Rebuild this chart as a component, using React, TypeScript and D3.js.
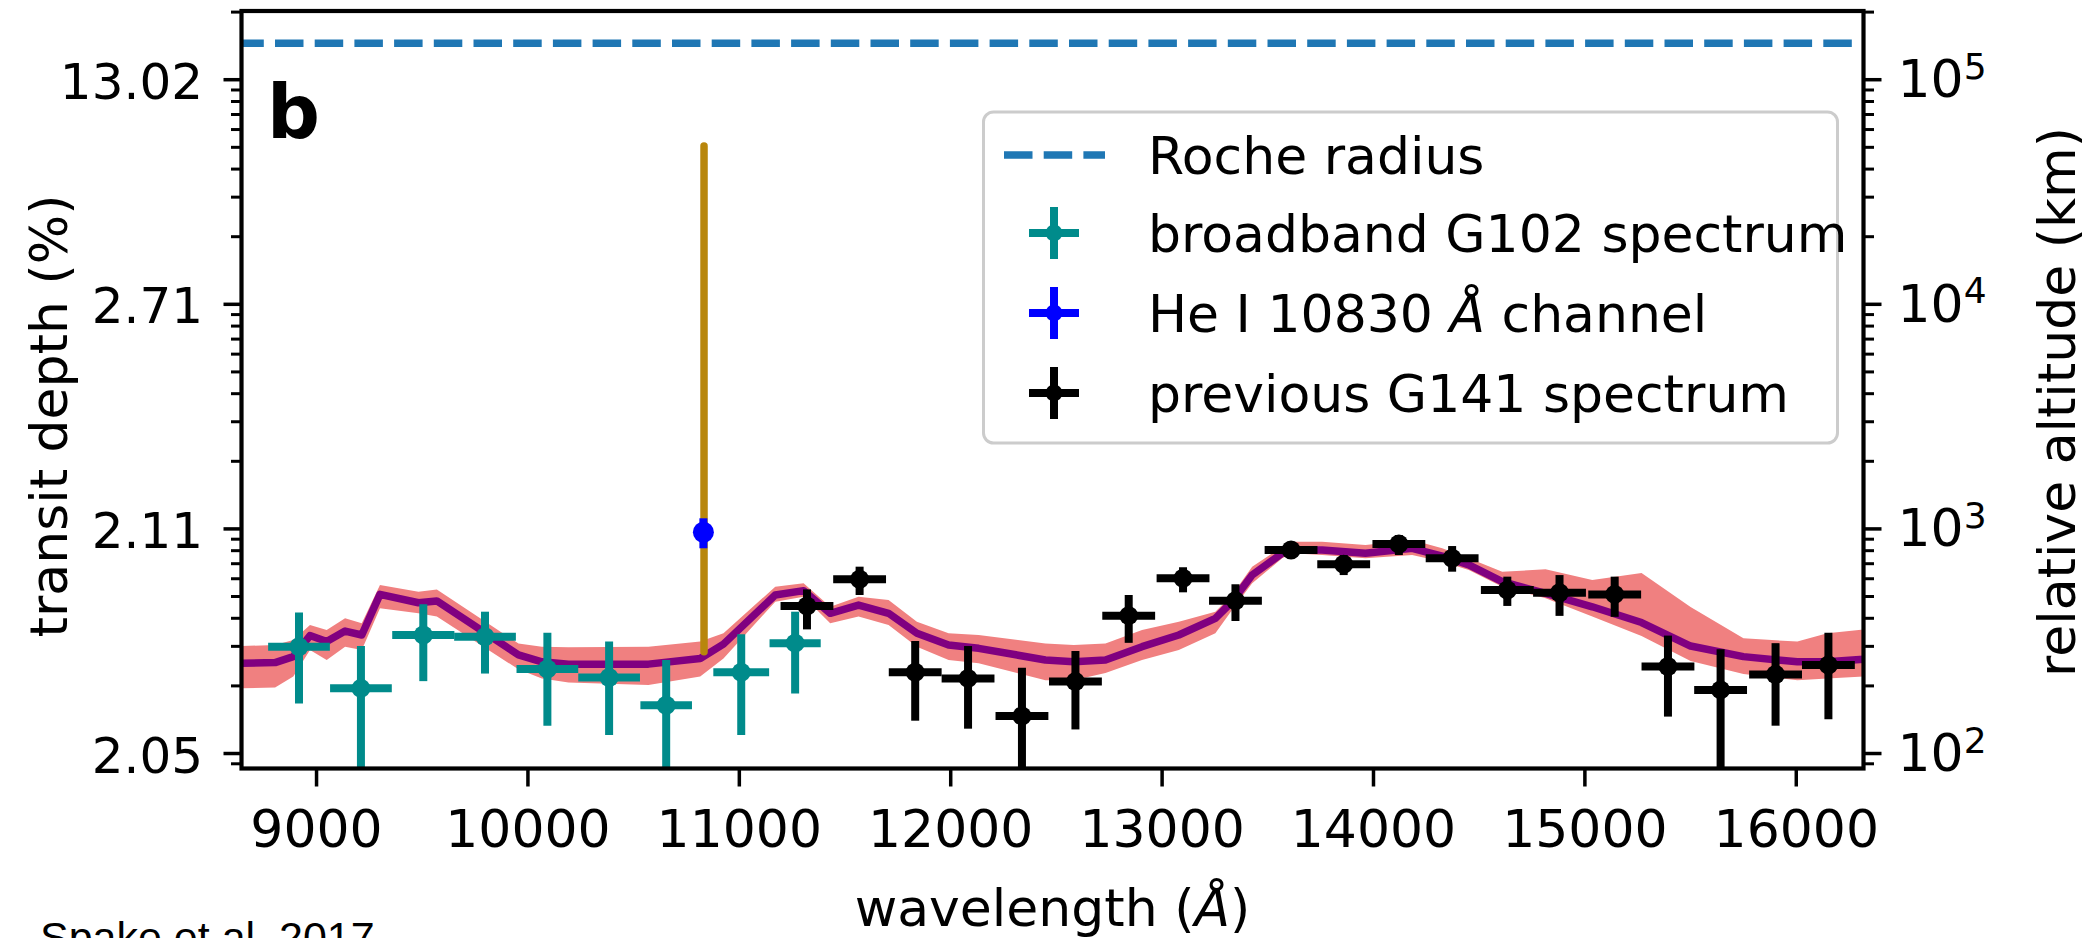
import React from 'react';
import * as d3 from 'd3';

// ---------- data ----------
const xDomain = [8645, 16318];
const yDomain = [85.76, 202260]; // relative altitude (km), log axis
const xTickValues = [9000, 10000, 11000, 12000, 13000, 14000, 15000, 16000];
const yMajorAlt = [100, 1000, 10000, 100000];
const leftTickLabels = ['2.05', '2.11', '2.71', '13.02'];
const rightTickExp = ['2', '3', '4', '5'];

const rocheAlt = 145300;

// model spectrum (altitude km) with 1-sigma band
const modelWave = [8646, 8804, 8890, 8969, 9048, 9135, 9214, 9300, 9482, 9569, 9955, 10066, 10192, 10570, 10815, 10925, 11170, 11304, 11430, 11564, 11706, 11840, 11990, 12132, 12448, 12582, 12732, 12905, 13079, 13252, 13331, 13426, 13568, 13615, 13757, 13962, 14183, 14325, 14451, 14609, 14814, 15035, 15268, 15500, 15750, 16005, 16147, 16318];
const modelAlt = [252, 254, 270, 335, 315, 351, 337, 511, 469, 478, 275, 256, 250, 250, 265, 307, 508, 531, 421, 458, 421, 343, 304, 294, 261, 256, 261, 299, 337, 400, 474, 623, 779, 805, 805, 779, 820, 757, 691, 582, 517, 450, 383, 301, 270, 256, 256, 263];
const modelHi = [301, 304, 320, 373, 355, 400, 380, 563, 525, 538, 309, 299, 297, 299, 315, 343, 553, 573, 450, 499, 482, 386, 343, 337, 309, 304, 309, 355, 386, 428, 508, 679, 833, 877, 877, 848, 892, 820, 740, 645, 661, 592, 636, 449, 326, 315, 343, 357];
const modelLo = [195, 197, 220, 289, 261, 299, 289, 443, 421, 407, 237, 216, 207, 202, 220, 265, 474, 499, 380, 407, 373, 299, 261, 252, 212, 212, 228, 261, 289, 343, 435, 573, 740, 779, 765, 740, 765, 714, 656, 553, 491, 407, 334, 258, 226, 212, 216, 220];

// broadband G102 spectrum
const g102Wave = [8917, 9210, 9505, 9797, 10092, 10384, 10654, 11009, 11264];
const g102HalfBin = [146, 146, 147, 146, 146, 146, 122, 132, 121];
const g102Alt = [299, 195, 337, 331, 238, 218, 164, 230, 310];
const g102Hi = [424, 301, 462, 428, 345, 315, 261, 340, 428];
const g102Lo = [167, 70, 210, 227, 133, 121, 70, 121, 185];

// He I 10830 channel
const heWave = [10830];
const heHalfBin = [4];
const heAlt = [966];
const heHi = [1115];
const heLo = [820];

// He absorption extent line
const heLineWave = 10833;
const heLineRange = [284, 50700];

// previous G141 spectrum
const g141Wave = [11320, 11569, 11832, 12082, 12337, 12590, 12842, 13099, 13347, 13610, 13859, 14120, 14372, 14633, 14880, 15141, 15393, 15642, 15902, 16152];
const g141HalfBin = [125, 125, 125, 125, 125, 125, 125, 125, 125, 125, 125, 125, 125, 125, 125, 125, 125, 125, 125, 125];
const g141Alt = [454, 597, 230, 216, 147, 209, 411, 603, 479, 805, 696, 857, 740, 535, 520, 511, 244, 192, 225, 248];
const g141Hi = [538, 679, 317, 301, 241, 286, 508, 675, 567, 874, 765, 939, 839, 613, 623, 613, 335, 291, 310, 345];
const g141Lo = [357, 508, 140, 129, 70, 128, 311, 522, 389, 742, 623, 765, 645, 454, 410, 406, 146, 75, 133, 142];

const legendLabels = ['Roche radius', 'broadband G102 spectrum', 'He I 10830 ', 'previous G141 spectrum'];

// ---------- layout / style ----------
const W = 2090, H = 938;
const PL = 241.5, PR = 1863.5, PT = 11, PB = 768.5;
const FONT = 'DejaVu Sans';
const FS = 52;
const C_TEAL = '#008b8b', C_BLUE = '#0000ff', C_BLACK = '#000000';
const C_BAND = '#f08080', C_MODEL = '#800080', C_ORANGE = '#b8860b', C_ROCHE = '#1f77b4';
const LW = 8;

export default function App() {
  const x = d3.scaleLinear().domain(xDomain).range([PL, PR]);
  const y = d3.scaleLog().domain(yDomain).range([PB, PT]);

  const idx = modelWave.map((_, i) => i);
  const area = d3.area<number>().x(i => x(modelWave[i])).y0(i => y(modelLo[i])).y1(i => y(modelHi[i]));
  const line = d3.line<number>().x(i => x(modelWave[i])).y(i => y(modelAlt[i]));

  const minor: number[] = [];
  for (let n = 1; n <= 5; n++) for (let k = 2; k <= 9; k++) {
    const v = k * Math.pow(10, n);
    if (v >= yDomain[0] && v <= yDomain[1]) minor.push(v);
  }

  const errSeries = (wave: number[], hb: number[], alt: number[], hi: number[], lo: number[], color: string, r: number, key: string) => (
    <g key={key}>
      {wave.map((w, i) => (
        <g key={i}>
          <line x1={x(w)} x2={x(w)} y1={y(lo[i])} y2={y(hi[i])} stroke={color} strokeWidth={LW} />
          <line x1={x(w - hb[i])} x2={x(w + hb[i])} y1={y(alt[i])} y2={y(alt[i])} stroke={color} strokeWidth={LW} />
          <circle cx={x(w)} cy={y(alt[i])} r={r} fill={color} />
        </g>
      ))}
    </g>
  );

  const legendCross = (cx: number, cy: number, color: string) => (
    <g>
      <line x1={cx} x2={cx} y1={cy - 26} y2={cy + 26} stroke={color} strokeWidth={LW} />
      <line x1={cx - 25} x2={cx + 25} y1={cy} y2={cy} stroke={color} strokeWidth={LW} />
      <circle cx={cx} cy={cy} r={8.5} fill={color} />
    </g>
  );

  const legY = [155, 233, 313, 393];

  return (
    <svg width={W} height={H} viewBox={`0 0 ${W} ${H}`} style={{ position: 'absolute', left: 0, top: 0, background: '#fff' }}
      fontFamily={FONT}>
      <defs>
        <clipPath id="plotclip">
          <rect x={PL} y={PT} width={PR - PL} height={PB - PT} />
        </clipPath>
      </defs>
      <rect x={0} y={0} width={W} height={H} fill="#fff" />

      <g clipPath="url(#plotclip)">
        <line x1={PL} x2={PR} y1={y(rocheAlt)} y2={y(rocheAlt)} stroke={C_ROCHE} strokeWidth={7.5}
          strokeDasharray="28.5 11.2" strokeDashoffset={6.2} />
        <path d={area(idx) || ''} fill={C_BAND} />
        <path d={line(idx) || ''} fill="none" stroke={C_MODEL} strokeWidth={7.5} strokeLinejoin="round" />
        <line x1={x(heLineWave)} x2={x(heLineWave)} y1={y(heLineRange[0])} y2={y(heLineRange[1])}
          stroke={C_ORANGE} strokeWidth={7.5} strokeLinecap="round" />
        {errSeries(g102Wave, g102HalfBin, g102Alt, g102Hi, g102Lo, C_TEAL, 9.5, 'g102')}
        {errSeries(g141Wave, g141HalfBin, g141Alt, g141Hi, g141Lo, C_BLACK, 9.5, 'g141')}
        {errSeries(heWave, heHalfBin, heAlt, heHi, heLo, C_BLUE, 10.5, 'he')}
      </g>

      {/* spines */}
      <rect x={PL} y={PT} width={PR - PL} height={PB - PT} fill="none" stroke="#000" strokeWidth={4.2} />

      {/* x ticks */}
      {xTickValues.map(v => (
        <g key={v}>
          <line x1={x(v)} x2={x(v)} y1={PB} y2={PB + 18} stroke="#000" strokeWidth={3.5} />
          <text x={x(v)} y={846.5} textAnchor="middle" fontSize={FS}>{v}</text>
        </g>
      ))}

      {/* y ticks left & right */}
      {yMajorAlt.map((v, i) => (
        <g key={v}>
          <line x1={PL - 18} x2={PL} y1={y(v)} y2={y(v)} stroke="#000" strokeWidth={3.5} />
          <line x1={PR} x2={PR + 18} y1={y(v)} y2={y(v)} stroke="#000" strokeWidth={3.5} />
          <text x={203} y={y(v) + 19} textAnchor="end" fontSize={50}>{leftTickLabels[i]}</text>
          <text x={1897.5} y={y(v) + 17.4} fontSize={FS}>10<tspan fontSize={36} dy={-18.4}>{rightTickExp[i]}</tspan></text>
        </g>
      ))}
      {minor.map(v => (
        <g key={'m' + v}>
          <line x1={PL - 10.5} x2={PL} y1={y(v)} y2={y(v)} stroke="#000" strokeWidth={3} />
          <line x1={PR} x2={PR + 10.5} y1={y(v)} y2={y(v)} stroke="#000" strokeWidth={3} />
        </g>
      ))}

      {/* axis labels */}
      <text transform="translate(67,416) rotate(-90)" textAnchor="middle" fontSize={FS}>transit depth (%)</text>
      <text transform="translate(2075,402) rotate(-90)" textAnchor="middle" fontSize={FS}>relative altitude (km)</text>
      <text x={1052.5} y={926} textAnchor="middle" fontSize={FS}>wavelength (<tspan fontStyle="italic">Å</tspan>)</text>

      {/* panel letter */}
      <text x={267} y={138} fontSize={74} fontWeight="bold">b</text>

      {/* legend */}
      <rect x={983.5} y={112} width={854} height={331} rx={10} ry={10} fill="#fff" fillOpacity={0.8}
        stroke="#cccccc" strokeWidth={3} />
      <line x1={1004} x2={1105} y1={legY[0]} y2={legY[0]} stroke={C_ROCHE} strokeWidth={7.5} strokeDasharray="28.5 11.2" />
      {legendCross(1054, legY[1], C_TEAL)}
      {legendCross(1054, legY[2], C_BLUE)}
      {legendCross(1054, legY[3], C_BLACK)}
      <text x={1148} y={legY[0] + 19} fontSize={FS}>{legendLabels[0]}</text>
      <text x={1148} y={legY[1] + 19} fontSize={FS}>{legendLabels[1]}</text>
      <text x={1148} y={legY[2] + 19} fontSize={FS}>{legendLabels[2]}<tspan fontStyle="italic">Å</tspan> channel</text>
      <text x={1148} y={legY[3] + 19} fontSize={FS}>{legendLabels[3]}</text>

      {/* source note (cut by the lower edge, as in the reference) */}
      <text x={40} y={952} fontSize={43} fontFamily="Liberation Sans">Spake et al. 2017</text>
    </svg>
  );
}
